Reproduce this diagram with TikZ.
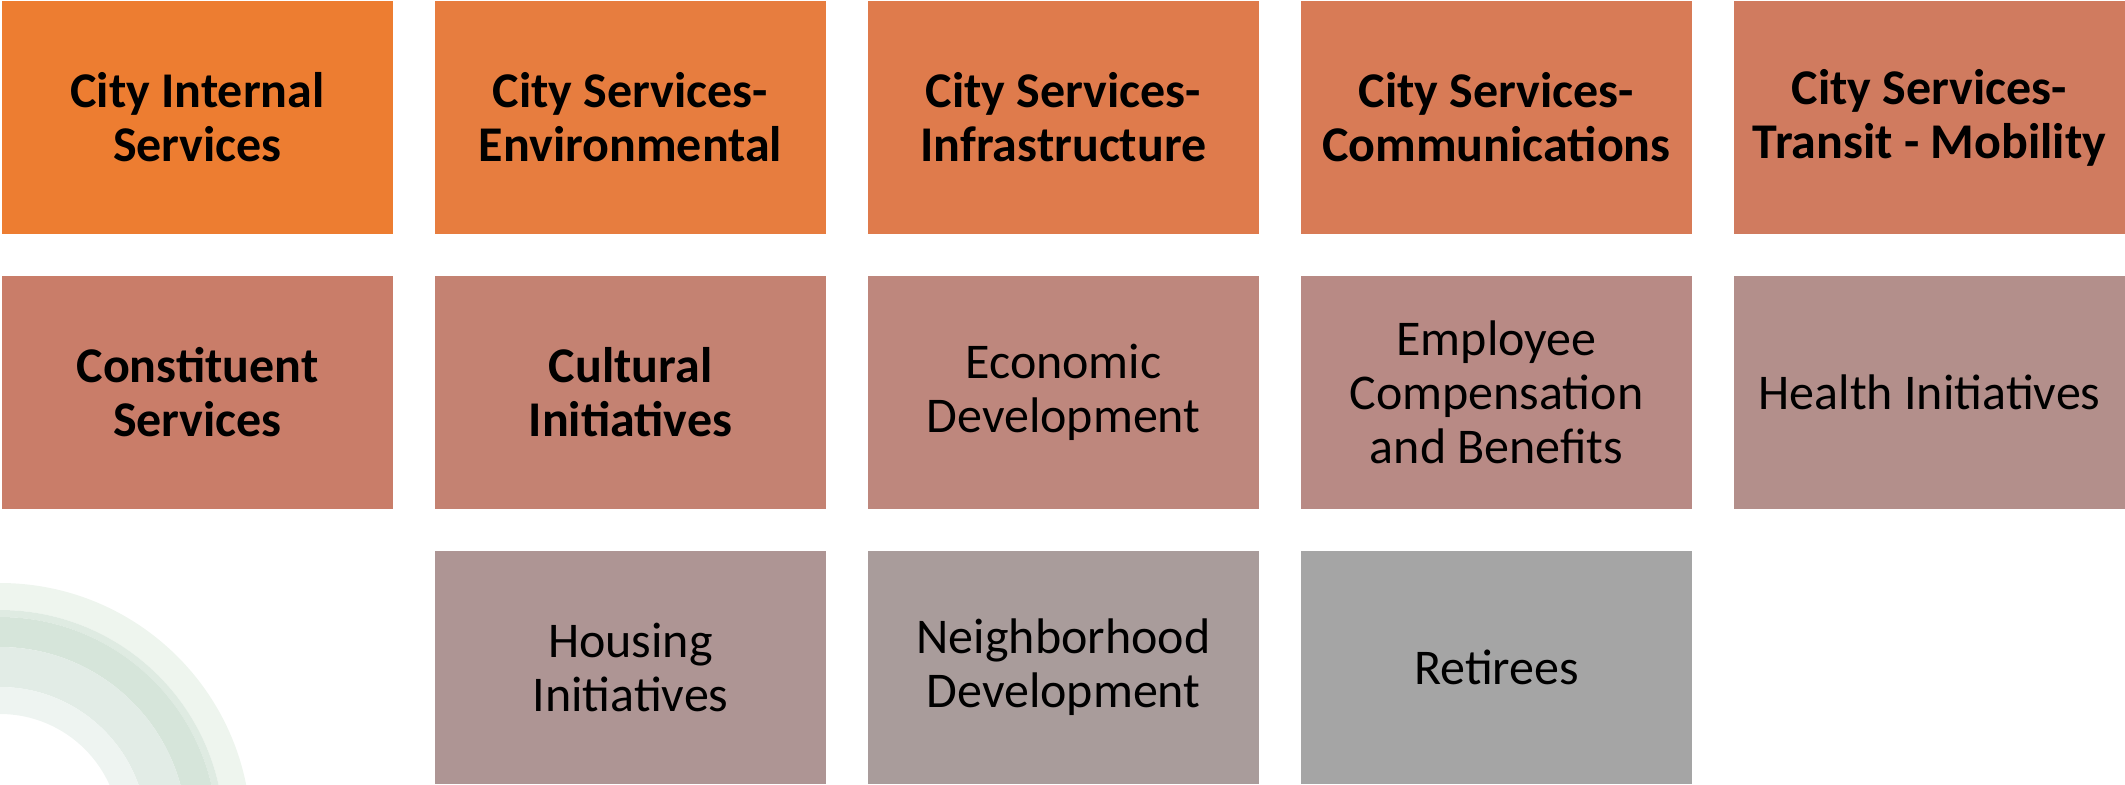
\documentclass[tikz,border=0pt]{standalone}
\usepackage{fontspec}
\setmainfont{Carlito}
\usepackage{tikz}
\usetikzlibrary{positioning}
\usepackage{xcolor}

\definecolor{boxA}{HTML}{ED7D31}
\definecolor{boxB}{HTML}{E77D3F}
\definecolor{boxC}{HTML}{DF7B4C}
\definecolor{boxD}{HTML}{D87B56}
\definecolor{boxE}{HTML}{D07B5F}
\definecolor{boxF}{HTML}{C97D69}
\definecolor{boxG}{HTML}{C48272}
\definecolor{boxH}{HTML}{BE877D}
\definecolor{boxI}{HTML}{B88A85}
\definecolor{boxJ}{HTML}{B38F8B}
\definecolor{boxK}{HTML}{AE9594}
\definecolor{boxL}{HTML}{A99C9B}
\definecolor{boxM}{HTML}{A5A5A5}
\definecolor{arcA}{HTML}{EEF5EE}
\definecolor{arcB}{HTML}{DFEBE2}
\definecolor{arcC}{HTML}{D6E5DA}
\definecolor{arcD}{HTML}{E2ECE6}
\definecolor{arcE}{HTML}{EEF4F1}

\tikzset{
  tile/.style={rectangle, minimum width=195.5pt, minimum height=116.5pt,
    inner sep=0pt, outer sep=0pt, align=center, text=black,
    font=\fontsize{25}{27}\selectfont},
  boldtile/.style={tile, font=\fontsize{25}{27}\selectfont\bfseries},
}

\begin{document}
\begin{tikzpicture}[node distance=21pt]
    \useasboundingbox (0,0) rectangle (1062.5pt,-392pt);

    % green arcs in the lower left corner
    \begin{scope}
        \clip (0,0) rectangle (1062.5pt,-392pt);
        \fill[arcA, even odd rule] (0,-417pt) circle (125.5pt) circle (112pt);
        \fill[arcB, even odd rule] (0,-417pt) circle (112pt) circle (108.5pt);
        \fill[arcC, even odd rule] (0,-417pt) circle (108.5pt) circle (93.5pt);
        \fill[arcD, even odd rule] (0,-417pt) circle (93.5pt) circle (73.5pt);
        \fill[arcE, even odd rule] (0,-417pt) circle (73.5pt) circle (60pt);
    \end{scope}

    % first row
    \node[boldtile, fill=boxA, anchor=north west] (internal) at (1pt,-0.5pt) {City Internal\\Services};
    \node[boldtile, fill=boxB, right=of internal] (environmental) {City Services-\\Environmental};
    \node[boldtile, fill=boxC, right=of environmental] (infrastructure) {City Services-\\Infrastructure};
    \node[boldtile, fill=boxD, right=of infrastructure] (communications) {City Services-\\Communications};
    \node[boldtile, fill=boxE, right=of communications] (transit) {City Services-\\Transit - Mobility};

    % second row
    \node[boldtile, fill=boxF, below=of internal] (constituent) {Constituent\\Services};
    \node[boldtile, fill=boxG, below=of environmental] (cultural) {Cultural\\Initiatives};
    \node[tile, fill=boxH, below=of infrastructure] (economic) {Economic\\Development};
    \node[tile, fill=boxI, below=of communications] (compensation) {Employee\\Compensation\\and Benefits};
    \node[tile, fill=boxJ, below=of transit] (health) {Health Initiatives};

    % third row
    \node[tile, fill=boxK, below=of cultural] (housing) {Housing\\Initiatives};
    \node[tile, fill=boxL, below=of economic] (neighborhood) {Neighborhood\\Development};
    \node[tile, fill=boxM, below=of compensation] (retirees) {Retirees};
\end{tikzpicture}
\end{document}
